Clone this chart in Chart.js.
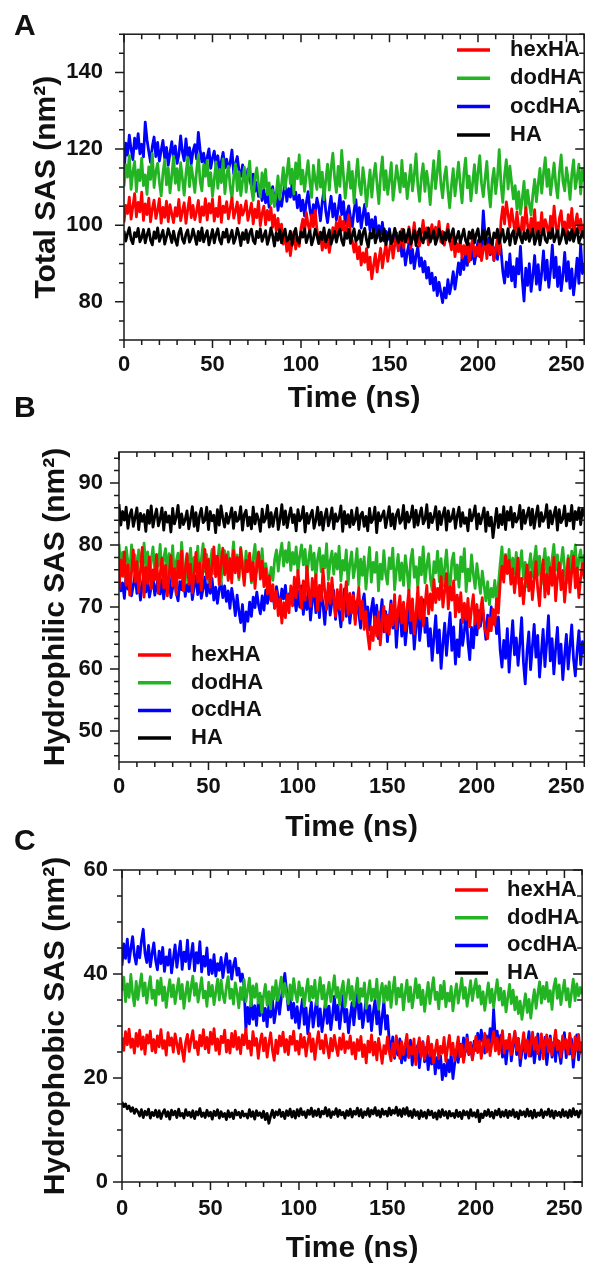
<!DOCTYPE html>
<html>
<head>
<meta charset="utf-8">
<script src="https://cdn.jsdelivr.net/npm/chart.js@4.4.0/dist/chart.umd.min.js"></script>
<style>
  body { margin: 0; background: #fff; }
  #wrap { position: relative; width: 597px; height: 1269px; overflow: hidden; background: #fff; }
  canvas { position: absolute; left: 0; }
  .panel { position: absolute; left: 14px; font: bold 30px "Liberation Sans", Arial, sans-serif; line-height: 1; color: #111; }
</style>
</head>
<body>
<div id="wrap">
  <canvas id="chartA" width="597" height="430" style="top:0px"></canvas>
  <canvas id="chartB" width="597" height="430" style="top:420px"></canvas>
  <canvas id="chartC" width="597" height="429" style="top:840px"></canvas>
  <div class="panel" style="top:10px">A</div>
  <div class="panel" style="top:392px">B</div>
  <div class="panel" style="top:825px">C</div>
</div>
<script>
// time axis, one sample per ns
var TIME = [0,1,2,3,4,5,6,7,8,9,10,11,12,13,14,15,16,17,18,19,20,21,22,23,24,25,26,27,28,29,30,31,32,33,34,35,36,37,38,39,
  40,41,42,43,44,45,46,47,48,49,50,51,52,53,54,55,56,57,58,59,60,61,62,63,64,65,66,67,68,69,70,71,72,73,74,75,76,77,78,79,
  80,81,82,83,84,85,86,87,88,89,90,91,92,93,94,95,96,97,98,99,100,101,102,103,104,105,106,107,108,109,110,111,112,113,114,115,116,117,118,119,
  120,121,122,123,124,125,126,127,128,129,130,131,132,133,134,135,136,137,138,139,140,141,142,143,144,145,146,147,148,149,150,151,152,153,154,155,156,157,158,159,
  160,161,162,163,164,165,166,167,168,169,170,171,172,173,174,175,176,177,178,179,180,181,182,183,184,185,186,187,188,189,190,191,192,193,194,195,196,197,198,199,
  200,201,202,203,204,205,206,207,208,209,210,211,212,213,214,215,216,217,218,219,220,221,222,223,224,225,226,227,228,229,230,231,232,233,234,235,236,237,238,239,
  240,241,242,243,244,245,246,247,248,249,250,251,252,253,254,255,256,257,258,259,260];
var SERIES = ["hexHA", "dodHA", "ocdHA", "HA"];
var X_TICKS = [0, 50, 100, 150, 200, 250];

// A: Total SAS
var A_Y_TICKS = [80, 100, 120, 140];
var A_HEX = [100.8,105.2,103.1,107.4,101.6,104.9,108.3,102.2,106.0,103.5, 108.7,101.3,105.6,102.8,107.1,100.9,104.3,106.6,101.8,103.9,
  107.0,100.6,104.7,102.1,106.3,101.0,105.4,103.0,100.7,104.6, 102.4,106.8,101.2,103.7,105.9,100.5,104.1,107.3,102.0,105.2,
  101.5,103.6,106.5,100.9,104.8,102.6,107.0,101.4,105.7,103.2, 106.9,101.1,104.4,102.3,107.5,100.8,105.0,103.4,106.2,101.7,
  104.5,107.2,101.9,103.8,106.1,100.6,105.3,102.7,104.0,106.4, 101.3,103.5,105.8,100.4,104.2,102.0,106.3,99.9,103.1,105.0,
  100.2,103.9,101.4,104.6,99.5,102.7,98.6,101.8,97.2,100.3, 95.1,97.9,93.2,96.4,92.1,95.6,98.3,93.8,96.9,94.5,
  99.2,101.6,97.8,103.4,100.1,98.5,102.7,99.6,104.0,98.9, 95.7,97.6,93.5,96.2,94.1,97.3,92.9,95.8,99.4,97.0,
  100.8,97.5,102.3,98.7,101.1,96.8,99.9,102.6,97.4,95.9, 93.0,95.6,91.2,94.4,89.6,92.8,90.3,93.9,88.4,91.7,
  86.0,89.5,92.6,87.8,91.1,94.0,88.9,92.3,95.2,90.6, 93.7,96.5,91.4,95.0,97.8,93.3,96.1,99.0,94.2,97.4,
  95.5,99.6,93.9,97.0,100.7,95.8,98.2,94.6,97.7,101.3, 96.4,99.3,94.9,98.0,100.2,96.6,99.5,97.1,101.0,95.7,
  98.4,94.8,97.5,100.3,95.9,93.6,96.8,91.8,95.3,93.1, 96.2,91.5,94.7,92.4,95.8,90.5,93.9,96.6,91.9,94.3,
  92.0,95.5,90.8,93.6,96.3,91.3,94.9,92.7,95.9,90.9, 93.8,96.7,92.5,101.2,104.8,100.4,106.1,102.9,99.5,104.3,
  101.0,97.8,103.5,99.3,96.9,102.1,98.6,104.6,100.2,97.3, 101.8,99.0,104.1,96.5,100.7,98.2,103.3,97.6,101.5,99.8,
  96.8,102.4,98.9,105.0,99.7,97.1,101.9,103.8,98.3,100.9, 96.3,102.8,99.4,104.4,97.9,100.5,103.0,98.0,101.6,97.5,
  100.4];
var A_DOD = [110.2,115.8,112.6,118.3,109.4,113.9,116.7,108.8,114.5,111.7, 117.6,110.4,113.2,108.1,115.3,112.0,118.8,109.9,114.1,116.2,
  111.3,107.7,113.6,117.2,110.6,115.0,108.5,112.9,118.1,111.0, 114.8,109.2,116.4,112.3,107.9,113.5,117.8,110.1,115.6,112.5,
  108.6,114.2,118.5,111.5,109.0,115.9,112.8,117.0,110.3,113.8, 107.6,112.1,116.6,109.7,114.6,111.2,117.4,108.3,113.0,115.5,
  110.0,106.9,112.7,116.1,109.1,114.0,107.8,111.6,115.2,108.7, 113.1,116.8,109.6,106.5,112.4,115.0,110.5,107.4,113.7,109.8,
  114.6,108.0,111.1,105.6,109.3,104.9,108.4,112.9,106.8,110.7, 115.1,109.5,113.3,117.5,110.9,114.7,108.2,116.3,112.2,118.4,
  110.8,114.4,108.9,113.1,116.9,111.4,107.3,115.7,112.0,109.4, 117.1,110.0,113.9,106.7,111.8,116.0,109.2,114.9,118.9,112.4,
  108.6,115.4,110.2,119.6,113.0,107.1,111.5,116.6,109.7,114.1, 105.8,112.6,117.3,110.5,108.0,115.1,111.3,104.9,109.9,114.5,
  107.4,112.8,116.2,110.6,105.7,113.4,117.9,109.3,114.3,108.1, 111.9,116.4,106.6,110.8,115.6,112.1,108.7,117.0,110.1,113.6,
  107.0,111.4,115.8,109.0,113.2,118.7,110.4,106.3,112.5,116.1, 108.9,114.2,110.7,105.4,111.7,116.9,109.6,113.9,119.4,111.0,
  107.2,112.7,115.3,109.1,104.6,110.3,114.8,107.7,112.0,116.5, 110.6,105.9,113.5,117.6,109.8,112.9,106.4,111.2,115.9,108.5,
  113.8,118.2,110.9,107.5,112.3,116.7,109.4,104.8,111.6,114.9, 108.3,112.6,119.8,110.7,106.0,113.1,117.2,109.5,115.5,111.1,
  106.9,110.4,104.3,108.8,102.9,107.0,111.5,103.8,109.2,105.6, 102.7,108.1,112.0,106.2,110.8,114.9,108.4,113.6,117.7,110.2,
  114.6,108.0,112.2,116.3,110.5,107.2,113.9,118.4,111.4,109.0, 115.1,111.8,106.8,113.3,117.1,109.6,112.5,116.0,108.2,114.7,
  111.5];
var A_OCD = [113.0,121.5,118.4,123.6,119.9,117.2,122.8,120.1,124.0,118.7, 121.2,117.9,127.0,122.4,119.3,116.5,120.6,123.1,118.0,121.7,
  116.8,119.6,122.2,117.5,120.4,115.7,119.0,121.9,117.1,120.8, 116.2,118.5,123.4,119.2,116.9,122.6,118.1,120.3,116.0,119.5,
  121.1,117.4,124.3,119.8,116.6,118.9,115.3,117.8,120.0,114.9, 117.6,119.4,115.6,118.2,113.9,116.7,119.1,115.0,117.3,114.4,
  116.4,119.7,113.5,116.1,118.0,114.2,112.8,115.8,113.1,111.6, 114.7,112.0,110.3,113.4,108.9,111.2,107.6,110.0,106.5,109.4,
  105.9,108.3,104.7,107.8,110.1,105.3,108.6,103.9,107.0,105.0, 108.2,110.9,106.3,109.6,107.4,111.0,106.8,108.7,104.6,107.9,
  103.8,106.6,102.5,105.9,108.8,104.2,101.6,105.4,103.0,107.1, 104.9,101.2,106.1,109.3,103.6,100.7,104.4,107.6,102.2,105.7,
  101.4,104.0,107.9,102.8,106.2,100.4,103.3,105.1,101.9,99.7, 103.9,106.7,101.0,104.6,99.3,102.6,105.5,100.1,103.1,98.6,
  101.5,99.0,102.2,96.7,99.9,97.6,100.8,95.9,98.4,96.3, 99.1,94.8,97.3,95.5,98.0,93.4,96.1,91.9,94.7,89.6,
  92.8,95.3,90.1,93.7,88.7,92.0,94.4,89.3,91.5,87.8, 90.6,86.2,89.0,84.7,87.5,83.0,86.4,81.6,85.1,82.4,
  79.8,83.6,81.0,85.8,82.1,84.5,87.9,83.3,86.7,90.2, 87.1,91.6,88.4,93.0,89.5,95.2,91.0,94.1,89.9,92.7,
  96.0,91.8,94.6,103.8,97.2,93.5,96.6,92.3,95.7,90.8, 94.3,91.1,96.9,93.6,88.0,84.9,90.4,86.6,92.5,85.5,
  89.2,83.9,91.3,87.3,94.5,86.0,80.2,88.8,84.3,90.0, 82.7,86.9,92.1,84.6,89.7,83.1,87.6,93.3,85.7,90.9,
  83.8,88.2,94.8,86.3,91.7,84.0,89.1,82.9,87.0,92.9, 85.4,90.5,83.5,88.6,81.8,86.1,91.4,84.8,95.1,87.4,
  89.8];
var A_HA = [98.6,95.9,97.8,99.4,96.3,95.2,98.1,97.0,99.2,95.7, 96.8,98.9,95.4,97.5,99.0,96.1,94.9,98.3,96.6,99.3,
  95.8,97.2,98.7,95.1,96.9,99.1,97.4,95.5,98.5,96.2, 94.8,98.0,99.2,96.4,95.3,97.7,98.8,95.6,96.7,99.0,
  97.1,95.0,98.4,96.0,99.3,95.7,97.3,98.6,94.9,96.8, 98.9,95.4,97.6,99.1,96.2,95.1,98.2,96.9,99.0,95.6,
  97.0,98.7,95.3,96.6,99.2,97.5,94.7,98.1,96.3,98.8, 95.5,97.9,99.0,96.0,95.2,98.4,96.8,99.1,95.8,97.2,
  98.6,95.0,96.7,99.3,97.3,94.6,98.0,96.1,98.9,95.4, 97.6,99.0,95.9,96.4,98.5,94.8,97.8,99.2,96.0,95.3,
  98.3,96.9,99.1,95.5,97.1,98.7,94.9,96.5,99.0,97.4, 95.2,98.2,96.3,99.3,95.7,97.0,98.8,95.1,96.8,98.4,
  95.6,97.7,99.0,96.1,94.8,98.1,96.6,98.9,95.3,97.3, 99.1,95.9,96.4,98.6,95.0,97.9,99.2,96.2,94.3,98.0,
  96.7,99.0,95.4,97.5,98.8,95.8,96.3,99.1,94.9,97.6, 98.5,95.2,96.9,99.2,97.1,95.5,98.3,96.0,98.9,95.7,
  97.4,99.0,95.1,96.6,98.7,94.7,97.8,99.1,96.3,95.4, 98.2,96.8,99.3,95.6,97.0,98.6,95.0,96.5,99.0,97.3,
  95.3,98.1,96.2,98.9,95.8,97.6,99.1,95.2,96.7,98.4, 95.5,97.2,99.0,96.0,94.9,98.3,96.6,98.8,95.4,97.7,
  99.1,95.7,96.4,98.7,95.1,97.9,99.2,96.1,95.0,98.0, 96.8,99.0,95.3,97.4,98.9,95.6,96.5,99.1,94.8,97.5,
  98.6,95.2,97.0,99.2,96.9,95.4,98.2,96.3,98.8,95.8, 97.3,99.0,95.0,96.7,98.5,94.9,97.8,99.1,96.2,95.5,
  98.1,96.6,99.2,95.7,97.1,98.7,95.1,96.4,99.0,97.4, 95.3,98.3,96.1,98.9,95.8,97.6,99.1,95.4,96.8,98.4,
  96.5];

// B: Hydrophilic SAS
var B_Y_TICKS = [50, 60, 70, 80, 90];
var B_HEX = [72.8,77.6,75.0,78.9,73.5,76.8,71.9,75.6,79.2,74.1, 77.3,72.4,75.9,79.6,71.6,76.4,73.8,78.1,72.9,76.0,
  74.4,78.5,72.2,75.3,77.9,73.1,76.7,71.8,75.1,78.3, 73.4,76.2,72.0,77.4,74.7,79.0,72.6,75.8,78.6,73.7,
  76.9,72.3,75.4,78.8,74.0,77.1,72.7,76.3,79.3,74.6, 77.7,73.2,76.5,79.7,74.9,78.2,73.6,77.0,79.5,75.2,
  78.4,74.3,77.8,73.9,79.1,75.5,78.0,74.8,79.4,76.1, 73.5,77.5,75.7,78.7,74.2,77.2,73.0,76.6,78.9,74.5,
  77.4,73.3,76.2,72.1,75.0,71.0,73.6,69.9,72.5,68.6, 71.3,67.4,70.7,68.3,72.0,69.1,73.4,70.2,74.8,71.5,
  75.9,72.6,69.8,74.2,71.1,76.5,72.9,70.1,74.6,71.7, 75.2,69.4,73.5,71.0,76.1,72.4,69.6,73.9,70.6,74.7,
  71.2,68.5,72.8,69.7,73.6,67.9,71.4,74.1,68.8,72.2, 69.0,71.9,67.2,70.5,73.1,68.1,70.9,66.4,69.3,65.5,
  63.2,66.8,64.6,68.4,65.3,69.2,63.9,67.7,70.1,66.0, 68.7,65.6,70.4,67.1,72.0,66.5,69.6,71.8,67.4,70.8,
  66.2,69.9,72.7,67.8,71.3,65.7,69.0,73.2,68.2,71.6, 67.0,70.3,73.5,68.9,72.1,69.5,74.4,70.7,73.0,71.2,
  74.9,70.0,72.6,75.4,69.7,73.3,71.1,74.2,68.4,71.9, 69.2,72.3,67.5,70.6,68.0,71.4,66.8,69.8,72.0,67.3,
  70.4,66.6,69.4,71.5,67.6,65.8,64.9,68.3,66.2,69.6, 67.1,71.3,69.0,73.8,76.6,74.0,78.3,75.4,77.5,73.7,
  76.2,72.3,75.1,77.9,71.8,74.6,70.5,73.8,76.8,72.6, 75.6,71.2,74.4,77.3,72.9,70.2,74.9,77.6,71.6,75.3,
  72.1,76.4,73.5,78.0,71.0,74.7,77.1,72.8,75.9,70.8, 74.2,77.8,72.4,75.7,78.2,73.1,76.3,71.5,74.8,77.0,
  74.5];
var B_DOD = [80.2,76.1,78.8,74.9,79.6,77.3,75.5,80.0,76.8,78.4, 74.6,79.2,77.8,75.9,80.3,76.4,78.9,74.2,77.5,79.7,
  75.8,78.1,76.6,80.1,74.8,77.9,79.4,75.3,78.6,76.0, 79.9,74.5,77.4,78.7,75.6,80.4,76.9,73.8,78.3,77.0,
  79.5,75.1,78.0,76.3,79.8,74.3,77.7,80.2,75.7,78.5, 74.0,77.2,79.3,75.4,78.2,76.7,80.0,73.7,77.6,79.1,
  75.9,78.9,74.7,77.1,80.5,76.2,78.4,74.4,79.6,77.3, 75.0,79.0,76.5,78.1,73.9,77.9,80.1,75.6,78.6,76.1,
  79.4,74.8,77.0,75.2,73.6,76.4,74.3,77.7,79.2,75.8, 78.5,80.3,76.6,79.1,77.2,80.4,75.9,78.8,76.9,79.7,
  75.5,78.2,80.0,76.8,79.3,74.9,77.6,79.9,76.0,78.7, 74.6,77.8,79.5,75.7,78.3,76.3,80.2,74.4,77.4,79.0,
  75.3,78.6,76.1,79.8,74.2,77.5,75.9,79.2,73.6,77.0, 78.9,74.7,76.6,79.4,73.3,77.7,75.1,78.1,72.9,76.4,
  79.6,74.0,77.2,75.6,78.8,72.6,76.9,74.5,79.1,75.4, 73.7,77.9,76.2,79.5,72.8,76.0,78.5,74.3,77.1,73.5,
  78.3,75.8,72.4,77.6,79.3,74.8,76.5,73.1,78.0,75.2, 79.7,73.9,76.7,78.6,74.6,72.7,77.3,75.5,79.0,74.1,
  77.8,73.4,76.3,79.2,75.0,72.9,77.4,78.7,74.4,76.8, 73.2,78.1,75.7,79.4,72.5,76.1,74.2,78.4,75.3,73.0,
  77.0,74.6,72.2,75.8,73.5,71.0,74.1,70.4,73.0,71.6, 74.3,70.7,73.6,76.9,79.7,75.2,78.5,76.0,79.3,74.8,
  77.9,75.4,78.8,73.8,76.6,79.1,74.5,77.2,73.3,76.3, 78.6,74.9,77.5,79.8,75.1,78.2,73.7,76.7,79.4,75.6,
  78.0,74.2,77.7,80.1,75.9,78.4,74.7,77.1,79.6,76.2, 73.9,78.3,75.5,79.0,76.4,80.0,74.6,77.8,79.2,75.7,
  78.5];
var B_OCD = [74.8,72.6,73.9,71.4,75.1,72.9,74.2,71.8,73.5,75.3, 72.2,74.0,71.1,73.7,75.5,72.4,74.6,71.6,73.2,74.9,
  71.9,73.4,75.0,72.1,74.4,71.3,73.8,72.7,75.2,71.5, 73.1,74.7,72.3,71.0,74.1,72.8,75.4,71.7,73.6,72.5,
  74.5,71.2,73.3,75.0,72.0,74.3,71.4,73.0,74.8,71.8, 73.7,72.2,74.6,71.1,73.2,70.6,72.9,74.1,71.5,73.4,
  70.9,72.6,69.8,73.0,71.2,68.6,71.9,69.3,67.5,70.4, 66.1,69.2,67.7,70.8,68.5,71.6,69.9,72.4,70.3,68.9,
  71.8,69.5,72.7,70.6,73.1,71.0,72.2,69.8,73.3,71.5, 70.2,72.9,71.3,73.5,69.9,72.1,70.7,73.0,71.6,69.4,
  72.5,70.0,73.4,68.8,71.7,69.6,72.8,67.9,71.0,73.2, 69.1,71.9,68.3,72.6,70.4,67.2,71.3,73.0,68.7,70.9,
  72.7,68.0,71.5,69.4,66.8,70.6,72.9,68.5,71.1,67.4, 70.2,72.3,67.9,71.0,69.0,66.6,70.7,72.1,68.2,70.0,
  66.3,69.6,71.4,67.1,70.3,64.9,68.4,71.2,66.0,69.3, 64.4,68.1,71.0,66.6,69.8,63.5,67.7,70.5,65.3,68.8,
  63.9,67.0,70.6,65.8,68.5,63.2,66.9,69.9,64.6,67.5, 71.2,65.9,68.2,63.7,66.5,61.4,65.1,68.6,62.6,66.3,
  60.1,64.0,67.4,62.2,65.7,69.1,63.0,66.8,60.8,64.7, 62.0,67.9,63.8,66.1,69.6,64.3,61.5,66.7,63.4,68.0,
  65.5,69.4,66.9,70.3,67.6,64.8,68.7,66.2,70.0,67.3, 69.2,65.7,68.4,63.1,60.3,64.6,61.7,66.5,59.5,63.9,
  67.8,62.3,65.0,60.6,64.1,68.3,61.1,57.6,62.8,66.0, 59.9,63.6,67.2,61.9,65.4,58.7,62.5,66.4,60.4,64.2,
  68.6,61.3,64.9,59.2,63.3,66.7,60.9,64.0,58.3,62.1, 65.6,60.0,63.7,67.1,61.6,58.9,62.9,66.2,60.7,64.4,
  62.4];
var B_HA = [86.6,83.2,85.4,84.0,86.1,82.7,84.8,85.7,83.0,84.4, 86.0,82.5,85.1,83.8,84.9,82.2,85.6,83.5,86.3,82.9,
  84.6,85.8,83.1,84.2,86.0,82.4,85.3,83.7,84.7,82.1, 85.9,83.4,84.5,86.4,82.8,85.0,83.3,84.1,85.5,82.6,
  84.3,86.2,83.0,85.2,82.3,84.7,85.9,83.6,84.0,86.1, 82.5,85.4,83.9,84.8,82.0,85.7,83.2,86.3,84.4,82.9,
  85.1,83.5,84.6,86.0,82.7,85.3,83.8,84.2,86.2,82.4, 84.9,85.6,83.1,84.5,82.6,86.1,83.4,85.0,84.1,82.2,
  85.8,83.7,84.3,86.4,82.9,85.2,83.0,84.7,85.9,82.5, 84.2,86.5,83.3,85.5,82.8,84.6,86.0,83.6,84.9,82.3,
  85.7,83.9,84.4,86.2,82.1,85.1,83.5,84.8,85.6,82.7, 84.0,86.1,83.2,85.3,82.4,84.6,85.8,83.1,84.3,86.0,
  82.6,85.0,83.8,84.5,86.3,82.2,85.4,83.4,84.9,82.9, 85.6,83.3,84.1,86.0,82.5,84.8,85.3,83.0,84.6,82.3,
  85.9,83.6,84.2,86.1,82.0,85.2,83.9,84.7,85.5,82.8, 84.4,86.2,83.1,85.0,82.6,84.9,85.7,83.5,84.0,86.4,
  82.7,85.3,83.7,84.5,86.3,82.9,85.6,83.2,84.8,86.0, 83.4,84.1,86.5,82.8,85.1,83.6,84.6,86.2,82.5,85.4,
  83.3,84.9,86.0,82.4,85.5,83.8,84.3,85.8,82.7,84.7, 86.1,83.0,85.2,83.5,84.4,82.3,85.7,83.9,84.8,86.3,
  82.6,85.0,83.4,84.6,86.0,82.2,85.3,83.1,84.5,81.2, 83.6,85.9,82.8,84.9,83.3,86.2,82.5,85.4,84.0,86.1,
  82.9,85.1,83.7,84.3,86.4,82.6,85.6,83.5,84.8,86.0, 83.2,85.8,82.7,84.7,86.3,83.0,85.2,83.8,84.5,86.5,
  82.8,85.5,83.4,84.9,86.1,82.4,85.7,83.6,84.2,86.3, 83.1,85.0,83.9,86.4,82.6,85.4,84.1,86.0,83.3,85.8,
  84.6];

// C: Hydrophobic SAS
var C_Y_TICKS = [0, 20, 40, 60];
var C_HEX = [27.8,25.3,28.9,26.4,29.4,25.9,27.5,24.8,28.6,26.1, 29.2,25.5,27.9,24.6,28.3,26.7,29.0,25.2,27.4,24.9,
  28.1,26.0,29.3,25.7,27.2,24.4,28.7,26.3,27.7,25.0, 28.5,26.6,24.7,27.6,25.4,23.2,26.9,28.4,25.1,27.3,
  29.1,25.8,27.0,24.5,28.2,26.2,29.3,25.6,27.8,24.9, 28.8,26.5,29.5,25.3,27.5,24.6,28.0,26.8,29.2,25.0,
  27.3,24.8,28.6,26.0,29.0,25.5,27.8,24.7,28.3,26.4, 29.4,25.7,27.1,24.4,28.9,26.3,27.6,23.8,26.8,28.5,
  25.2,27.7,24.0,26.6,28.7,25.4,23.4,27.3,24.7,28.1, 26.2,28.8,25.0,27.4,24.5,28.0,26.5,29.0,25.3,27.1,
  24.6,28.4,25.9,27.8,24.2,26.9,28.6,25.1,27.5,23.6, 26.7,28.9,25.6,27.2,24.8,28.3,26.1,23.9,27.6,25.2,
  28.2,26.0,24.3,27.7,25.5,28.5,24.9,27.0,25.7,28.1, 24.6,26.8,23.7,27.4,25.3,28.0,24.1,26.4,22.9,27.1,
  25.0,28.3,24.4,26.9,23.5,27.6,25.4,22.8,26.2,24.7, 27.9,25.1,23.3,26.6,24.2,28.1,25.7,23.8,27.0,24.5,
  26.3,28.4,23.9,26.0,24.6,27.5,22.6,25.8,27.7,24.0, 26.9,23.6,25.5,28.0,24.3,26.5,22.9,25.2,27.3,23.7,
  26.1,24.8,27.8,23.2,25.9,28.2,24.5,26.7,23.4,25.6, 27.9,24.1,26.4,23.0,25.3,27.6,24.7,26.8,23.5,25.7,
  28.0,24.9,27.1,23.8,26.3,28.6,25.0,27.4,24.3,26.7, 28.9,25.2,27.7,24.6,26.5,29.1,24.8,27.2,25.6,28.4,
  24.5,26.9,29.0,25.3,27.5,23.9,26.2,28.7,25.0,27.3, 24.2,26.6,28.8,25.5,27.8,24.7,26.0,28.5,23.7,26.8,
  28.3,25.1,27.6,24.4,26.7,29.2,25.4,27.1,24.0,28.1, 25.8,27.4,24.6,28.6,26.1,23.9,27.9,25.3,28.4,24.8,
  26.9];
var C_DOD = [36.8,39.4,34.7,38.1,35.5,39.9,36.2,33.9,38.6,35.1, 37.7,40.0,35.8,38.3,34.4,37.2,39.5,35.3,36.9,34.0,
  38.7,36.1,39.2,34.9,37.5,33.6,36.6,38.9,35.6,37.9, 34.3,36.8,39.1,35.2,38.0,33.4,36.3,38.5,34.8,37.3,
  39.6,35.9,38.2,34.6,37.0,39.3,35.4,36.7,33.8,38.4, 35.7,37.8,34.1,36.5,39.0,35.0,38.8,36.0,34.5,37.6,
  39.5,35.3,37.1,34.2,38.3,36.4,33.5,37.4,35.1,38.9, 34.7,36.9,39.2,33.9,37.7,35.5,38.1,34.4,36.3,32.6,
  35.8,38.0,34.0,36.6,33.3,37.5,35.2,38.7,34.9,37.1, 39.4,35.6,38.2,36.1,34.3,37.9,35.0,39.1,36.4,34.6,
  38.5,35.9,37.3,33.8,36.7,39.0,34.8,37.6,35.4,38.8, 34.1,36.5,39.3,35.2,37.8,33.6,36.2,38.4,34.7,37.0,
  39.7,35.5,37.4,34.0,36.9,38.6,33.7,36.3,38.9,35.1, 37.6,33.9,36.6,39.2,34.5,37.2,35.7,38.3,33.4,36.0,
  38.7,34.9,37.1,35.3,39.0,33.2,36.4,38.2,34.6,37.7, 35.0,38.5,33.6,36.8,39.4,34.2,37.3,35.6,38.0,33.1,
  36.2,38.8,34.7,37.5,33.5,36.0,39.1,35.4,37.9,34.1, 36.9,32.8,35.7,38.4,34.3,37.0,39.3,35.1,36.5,33.3,
  37.8,35.2,38.6,33.7,36.3,34.8,37.6,32.9,35.9,38.1, 34.4,36.8,39.2,35.3,37.4,33.8,36.1,38.7,34.9,37.2,
  39.0,35.5,37.7,34.2,36.6,33.0,35.8,38.3,34.5,37.1, 33.6,36.4,38.9,35.0,37.3,34.0,36.7,32.7,35.4,38.0,
  34.3,36.9,33.1,35.6,32.4,34.8,31.3,33.9,36.2,32.6, 35.1,31.5,34.6,37.0,33.4,36.3,38.5,34.4,37.6,35.2,
  38.4,34.7,36.8,33.2,37.5,39.1,35.3,37.9,34.1,36.6, 38.8,35.0,37.2,33.7,36.4,39.0,34.9,38.1,35.8,37.4,
  36.1];
var C_OCD = [41.6,45.8,43.0,46.7,42.3,44.9,47.2,43.6,41.9,45.3, 43.1,46.4,48.6,44.0,42.2,45.5,41.4,43.9,46.0,42.6,
  40.8,44.4,42.0,45.1,40.5,43.3,41.7,44.7,40.2,42.9, 45.6,41.3,43.8,46.3,40.9,44.2,42.4,46.5,41.0,43.5,
  45.9,40.6,44.1,42.1,46.2,40.4,43.4,41.5,45.0,39.9, 42.7,40.1,43.7,39.6,42.0,40.7,43.2,39.3,41.8,43.9,
  40.3,42.5,39.0,41.6,43.0,39.8,41.1,38.6,40.0,37.5, 29.2,33.6,30.4,35.0,31.3,33.9,30.1,34.7,32.0,35.6,
  31.0,33.4,29.9,34.2,31.7,35.1,30.6,33.0,36.0,32.3, 35.3,37.8,40.1,36.7,33.1,35.8,31.5,34.4,30.7,33.7,
  29.6,32.8,35.2,30.3,33.5,28.5,31.9,34.6,29.8,32.5, 35.4,30.0,33.3,28.9,31.6,34.9,30.5,33.8,29.3,32.1,
  35.7,31.2,34.0,29.5,32.7,35.9,30.8,33.2,28.7,31.8, 34.5,30.2,33.6,36.1,31.4,34.3,29.7,32.4,35.5,30.9,
  33.9,29.1,32.6,35.0,30.4,33.3,28.4,31.7,34.8,29.4, 32.0,27.2,25.0,27.9,23.8,26.6,24.4,27.5,22.9,25.8,
  23.4,26.9,24.1,27.3,22.5,25.5,23.7,26.2,22.0,24.9, 27.0,23.1,25.9,21.6,24.6,22.7,25.2,20.8,23.9,21.9,
  24.3,19.7,22.6,20.4,23.5,21.2,24.7,19.9,22.8,25.4, 23.0,26.5,24.2,27.7,25.0,28.3,24.5,26.8,23.6,27.1,
  25.3,28.6,26.0,29.2,27.0,24.8,28.1,25.7,29.5,26.4, 33.2,27.4,29.0,25.6,28.2,24.0,26.7,22.7,25.9,28.4,
  23.3,26.1,28.8,24.5,27.6,22.4,25.1,27.9,23.8,26.3, 28.9,24.2,27.2,22.9,25.7,28.5,23.6,26.6,24.7,27.8,
  22.6,25.4,28.1,24.0,26.9,23.2,27.3,25.0,22.8,26.0, 28.7,23.9,26.4,24.6,27.5,22.1,25.6,28.3,23.5,26.8,
  24.9];
var C_HA = [15.4,14.5,15.0,14.1,14.6,13.6,14.3,13.2,14.0,13.5, 12.7,13.9,12.4,13.6,12.9,14.0,12.3,13.4,12.8,13.8,
  12.5,13.7,12.2,13.3,13.9,12.6,13.5,12.1,13.8,12.9, 13.6,12.4,14.0,12.7,13.2,12.3,13.9,12.8,13.4,12.5,
  13.7,12.2,13.5,12.9,14.1,12.6,13.3,12.4,13.8,12.7, 13.4,12.1,13.6,12.8,13.9,12.3,13.5,12.6,13.2,12.0,
  13.7,12.5,13.3,12.2,13.8,12.9,13.4,12.4,13.6,12.7, 13.1,12.3,13.9,12.6,13.5,12.1,13.7,12.8,13.3,12.4,
  13.6,12.0,13.2,11.3,12.7,13.8,12.4,13.5,12.9,13.9, 12.6,13.4,12.2,13.7,12.8,14.0,12.5,13.6,12.3,13.9,
  12.7,14.1,12.9,13.5,12.4,13.8,13.0,14.2,12.6,13.7, 12.8,14.0,12.5,13.6,13.1,14.3,12.7,13.9,12.4,13.5,
  13.0,14.1,12.6,13.8,12.9,13.4,12.3,13.7,12.8,14.0, 12.5,13.6,13.0,14.2,12.7,13.9,12.4,13.5,12.9,14.1,
  12.6,13.8,13.1,14.3,12.8,13.7,12.5,14.0,13.0,13.6, 12.7,14.2,12.9,13.8,13.2,14.4,12.8,13.9,12.6,14.1,
  13.0,14.3,12.7,13.6,12.4,13.9,12.8,13.5,12.2,13.7, 12.6,13.4,12.3,13.8,12.9,13.6,12.4,13.3,12.1,13.7,
  12.5,13.9,12.8,13.5,12.3,13.6,12.7,13.2,12.4,13.8, 12.6,13.4,12.2,13.7,12.9,13.5,12.3,13.9,12.7,13.3,
  12.5,13.8,11.6,13.1,12.4,13.6,12.8,13.9,12.6,13.4, 12.3,13.7,12.9,14.0,12.5,13.5,12.7,13.8,12.4,13.6,
  12.8,13.9,12.5,13.4,12.2,13.7,12.9,13.5,12.6,14.0, 12.7,13.6,12.3,13.8,12.5,13.3,12.8,13.9,12.4,13.5,
  12.9,14.0,12.6,13.7,12.3,13.6,12.8,13.4,12.5,13.9, 12.7,13.5,12.4,13.8,12.6,14.1,12.9,13.6,12.5,13.7,
  13.2];

var COLORS = ["#ff0000", "#22b422", "#0000ff", "#000000"];
var DRAW_ORDER = [1, 2, 3, 0]; // HA on top
var FONT = '"Liberation Sans", Arial, sans-serif';

Chart.defaults.font.family = FONT;
Chart.defaults.color = "#111";

// box round the plot with ticks on all four sides
const framePlugin = {
  id: "frame",
  afterDatasetsDraw(chart, args, opts) {
    const ctx = chart.ctx, a = chart.chartArea;
    const xs = chart.scales.x, ys = chart.scales.y;
    ctx.save();
    ctx.strokeStyle = "#1a1a1a";
    ctx.lineWidth = 1.5;
    ctx.strokeRect(a.left, a.top, a.right - a.left, a.bottom - a.top);
    ctx.beginPath();
    for (let v = xs.min; v <= xs.max; v += opts.xMinor) {
      const len = X_TICKS.includes(v) ? 8 : 5;
      const px = xs.getPixelForValue(v);
      ctx.moveTo(px, a.bottom); ctx.lineTo(px, a.bottom + len);
      ctx.moveTo(px, a.top); ctx.lineTo(px, a.top + len);
    }
    for (let v = Math.ceil(ys.min / opts.yMinor) * opts.yMinor; v <= ys.max; v += opts.yMinor) {
      const len = opts.yMajor.includes(v) ? 9 : 5;
      const py = ys.getPixelForValue(v);
      ctx.moveTo(a.left, py); ctx.lineTo(a.left - len, py);
      ctx.moveTo(a.right, py); ctx.lineTo(a.right - len, py);
    }
    ctx.stroke();
    ctx.restore();
  }
};

// legend drawn inside the plot, under the traces
const insideLegend = {
  id: "insideLegend",
  beforeDatasetsDraw(chart, args, opts) {
    const ctx = chart.ctx;
    ctx.save();
    ctx.font = "bold 22px " + FONT;
    ctx.textBaseline = "middle";
    chart.data.datasets.forEach(function(ds, i) {
      const y = opts.y + i * opts.gap;
      ctx.strokeStyle = ds.borderColor;
      ctx.lineWidth = 3.5;
      ctx.beginPath();
      ctx.moveTo(opts.x, y);
      ctx.lineTo(opts.x + 33, y);
      ctx.stroke();
      ctx.fillStyle = "#111";
      ctx.fillText(ds.label, opts.textX, y);
    });
    ctx.restore();
  }
};

function buildPanel(id, values, yMin, yMax, yTicks, yMinor, yTitle, lay) {
  const datasets = SERIES.map(function(name, i) {
    return {
      label: name,
      data: values[i],
      borderColor: COLORS[i],
      backgroundColor: COLORS[i],
      borderWidth: 2.8,
      borderJoinStyle: "round",
      pointRadius: 0,
      tension: 0,
      order: DRAW_ORDER[i]
    };
  });

  return new Chart(document.getElementById(id), {
    type: "line",
    data: { labels: TIME, datasets: datasets },
    plugins: [insideLegend, framePlugin],
    options: {
      responsive: false,
      animation: false,
      layout: { padding: { top: lay.top, right: lay.right, left: 0, bottom: 0 } },
      scales: {
        x: {
          type: "linear",
          min: 0,
          max: 260,
          afterBuildTicks: function(s) { s.ticks = X_TICKS.map(function(v) { return { value: v }; }); },
          afterFit: function(s) { s.height = lay.xHeight; },
          grid: { display: false, drawTicks: false },
          border: { display: false },
          ticks: { font: { size: 22, weight: "bold" }, padding: lay.xLabelPad, maxRotation: 0, autoSkip: false },
          title: { display: true, text: "Time (ns)", font: { size: 30, weight: "bold" }, padding: { top: 0, bottom: lay.xTitlePad } }
        },
        y: {
          min: yMin,
          max: yMax,
          afterBuildTicks: function(s) { s.ticks = yTicks.map(function(v) { return { value: v }; }); },
          afterFit: function(s) { s.width = lay.yWidth; },
          grid: { display: false, drawTicks: false },
          border: { display: false },
          ticks: { font: { size: 22, weight: "bold" }, padding: lay.yLabelPad },
          title: { display: true, text: yTitle, font: { size: 30, weight: "bold" }, padding: { top: lay.yTitlePad, bottom: 0 } }
        }
      },
      plugins: {
        legend: { display: false },
        tooltip: { enabled: false },
        insideLegend: lay.legend,
        frame: { xMinor: 10, yMinor: yMinor, yMajor: yTicks }
      }
    }
  });
}

buildPanel("chartA", [A_HEX, A_DOD, A_OCD, A_HA], 70, 150, A_Y_TICKS, 5, "Total SAS (nm²)", {
  top: 28, right: 4, yWidth: 124, xHeight: 90, xLabelPad: 12, xTitlePad: 13, yLabelPad: 21, yTitlePad: 29,
  legend: { x: 457, textX: 510, y: 50, gap: 28.3 }
});
buildPanel("chartB", [B_HEX, B_DOD, B_OCD, B_HA], 45, 95, B_Y_TICKS, 2, "Hydrophilic SAS (nm²)", {
  top: 32, right: 7, yWidth: 119, xHeight: 88, xLabelPad: 12, xTitlePad: 4, yLabelPad: 16, yTitlePad: 37.5,
  legend: { x: 138, textX: 191, y: 235, gap: 27.7 }
});
buildPanel("chartC", [C_HEX, C_DOD, C_OCD, C_HA], 0, 60, C_Y_TICKS, 5, "Hydrophobic SAS (nm²)", {
  top: 30, right: 6, yWidth: 122, xHeight: 87, xLabelPad: 14, xTitlePad: 2, yLabelPad: 14, yTitlePad: 38,
  legend: { x: 455, textX: 507, y: 50, gap: 27.7 }
});
</script>
</body>
</html>
